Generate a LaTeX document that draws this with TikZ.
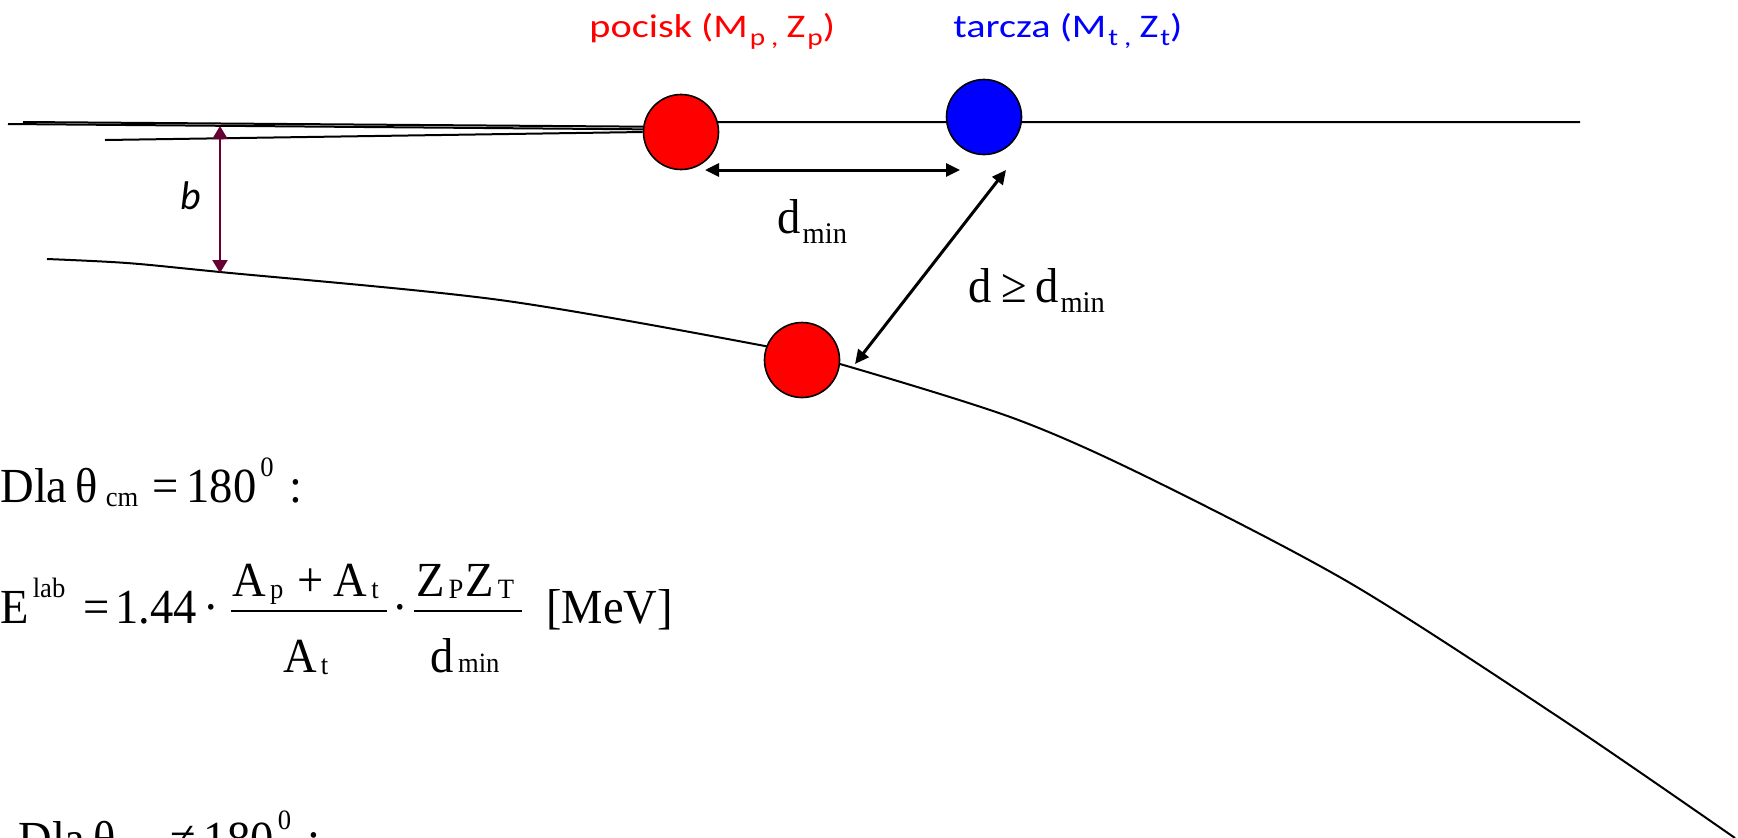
\documentclass[tikz,border=0pt]{standalone}
\usepackage{fontspec}
\setmainfont{Liberation Serif}
\usetikzlibrary{arrows.meta,backgrounds}
\newfontfamily\eqfont[FakeStretch=0.95]{Liberation Serif}
\newfontfamily\labfont[FakeStretch=1.22]{Carlito}
\newfontfamily\bfont{Carlito}
\definecolor{impactcol}{RGB}{102,0,51}
\newcommand{\eqsub}[2][1pt]{\hspace{2pt}\raisebox{-#1}{\fontsize{14}{14}\selectfont #2}}
\newcommand{\eqsup}[2][12pt]{\hspace{2pt}\raisebox{#1}{\fontsize{14}{14}\selectfont #2}}
\newcommand{\dsub}[1]{\hspace{1pt}\raisebox{-5pt}{\fontsize{15}{15}\selectfont #1}}
\newcommand{\labsub}[1]{\raisebox{-4pt}{\fontsize{12}{12}\selectfont #1}}
\newcommand{\eqfrac}[2]{\raisebox{-24.5pt}{\renewcommand\arraystretch{0.833}\setlength\arrayrulewidth{0.9pt}%
  \begin{tabular}[b]{@{\hspace{1pt}}c@{\hspace{4pt}}}#1\\\hline\rule{0pt}{30pt}#2\end{tabular}}}

\begin{document}
\begin{tikzpicture}[x=0.5pt,y=-0.5pt, >={Triangle[length=7pt,width=6.5pt]}, ball/.style={circle,draw,line width=0.8pt,minimum size=37.5pt,inner sep=0pt}, track/.style={line width=1pt}, dim/.style={<->,line width=1.5pt}, eq/.style={anchor=base west,inner sep=0pt,font=\eqfont\fontsize{24.5}{28}\selectfont}, lab/.style={anchor=base west,inner sep=0pt,font=\labfont\fontsize{16.5}{20}\selectfont}]
\useasboundingbox (0,0) rectangle (1738,837);
\clip (0,0) rectangle (1738,837);

% nuclei
\node[ball,fill=red] (proj) at (681,132) {};
\node[ball,fill=blue] (targ) at (984,117) {};
\node[ball,fill=red] (scat) at (802,360) {};

\node[lab,text=red] (projlab) at (589,37) {pocisk (M\hspace{1pt}\labsub{p\hspace{3pt},}\hspace{4pt}Z\hspace{1pt}\labsub{p})};
\node[lab,text=blue] (targlab) at (953,37) {tarcza (M\hspace{1pt}\labsub{t\hspace{3pt},}\hspace{4pt}Z\hspace{1pt}\labsub{t})};

% incoming and outgoing paths
\coordinate (in1) at (23,122);
\coordinate (in2) at (8,124);
\coordinate (in3) at (105,140);
\coordinate (out) at (1580,122);
\begin{scope}[on background layer]
\draw[track] (in1) -- (proj.172);
\draw[track] (in2) -- (proj.176);
\draw[track] (in3) -- (proj.west);
\draw[track] (proj.15) -- (out);
\draw[track] plot[smooth] coordinates {(47,259) (127,263) (220,272) (500,300) (765,346) (840,364) (1013,418) (1147,477) (1350,583) (1563,720) (1735,838)};
\end{scope}

% impact parameter
\coordinate (btop) at (220,126);
\coordinate (bbot) at (220,273);
\draw[{Triangle[length=6.5pt,width=7.5pt]}-{Triangle[length=6.5pt,width=7.5pt]},impactcol,line width=1pt] (btop) -- (bbot);
\node[anchor=base west,inner sep=0pt,font=\bfont\itshape\fontsize{20}{24}\selectfont] (blab) at (180,209) {b};

% distances
\coordinate (dminL) at (705,170);
\coordinate (dminR) at (960,170);
\coordinate (dL) at (855,364);
\coordinate (dU) at (1006,170);
\draw[dim] (dminL) -- (dminR);
\draw[dim] (dL) -- (dU);
\node[eq] (dminlab) at (777,233) {d\dsub{min}};
\node[eq] (dlab) at (968,302) {d\hspace{5pt}≥\hspace{4pt}d\dsub{min}};

% formulas
\node[eq] (cond1) at (0,502) {Dla\hspace{4pt}θ\hspace{2pt}\eqsub[2pt]{cm}\hspace{7pt}=\hspace{4pt}180\eqsup[13pt]{0}\hspace{8pt}:};
\node[eq] (elab) at (0,623) {E\eqsup[13pt]{lab}\hspace{9pt}=\hspace{3pt}1.44\hspace{3pt}·\hspace{6pt}\eqfrac{A\eqsub[1.2pt]{p}\hspace{7pt}+\hspace{5pt}A\eqsub{t}}{A\eqsub{t}}\hspace{3pt}·\hspace{3pt}\eqfrac{Z\eqsub{P}\hspace{1pt}Z\eqsub{T}\hspace{2pt}}{d\eqsub[0pt]{min}}\hspace{12pt}[MeV]};
\node[eq] (cond2) at (18,855) {Dla\hspace{4pt}θ\hspace{2pt}\eqsub[2pt]{cm}\hspace{7pt}≠\hspace{4pt}180\eqsup[13pt]{0}\hspace{8pt}:};
\end{tikzpicture}
\end{document}
